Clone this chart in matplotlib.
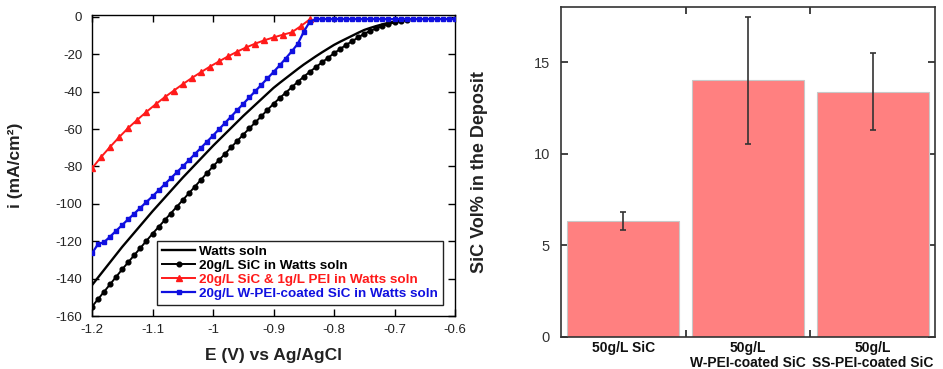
import matplotlib
matplotlib.use("Agg")
import matplotlib.pyplot as plt
import numpy as np

plt.rcParams['font.family'] = ['Liberation Sans', 'DejaVu Sans']
plt.rcParams['axes.unicode_minus'] = False

# ---------------- Left panel data (polarization curves) ----------------
# potential grid (V vs Ag/AgCl), 0.01 V steps
E_grid = np.round(np.linspace(-1.2, -0.6, 61), 3)

i_watts = [-143.5, -139.4, -135.3, -131.2, -127.1, -123.0, -119.2, -115.4, -111.6, -107.8,
           -104.0, -100.4, -96.8, -93.2, -89.6, -86.0, -82.6, -79.2, -75.8, -72.4,
           -69.0, -65.8, -62.6, -59.4, -56.2, -53.0, -50.0, -47.0, -44.0, -41.0,
           -38.0, -35.4, -32.9, -30.4, -27.9, -25.5, -23.3, -21.1, -19.0, -17.0,
           -15.0, -13.3, -11.7, -10.1, -8.5, -7.0, -5.9, -4.9, -4.0, -3.2,
           -2.5, -2.0, -1.5]

i_sic = [-155.0, -151.0, -147.0, -143.0, -139.0, -135.0, -131.2, -127.4, -123.6, -119.8,
         -116.0, -112.4, -108.8, -105.2, -101.6, -98.0, -94.4, -90.8, -87.2, -83.6,
         -80.0, -76.6, -73.2, -69.8, -66.4, -63.0, -59.7, -56.4, -53.1, -49.8,
         -46.5, -43.5, -40.6, -37.7, -34.8, -32.0, -29.4, -26.9, -24.4, -21.9,
         -19.5, -17.2, -15.0, -13.0, -11.0, -9.0, -7.5, -6.1, -4.9, -3.9,
         -3.0, -2.3, -1.8]

i_wpei = [-126.5, -121.5, -120.5, -117.5, -114.4, -111.3, -108.2, -105.2, -102.1, -99.0,
          -96.0, -92.8, -89.6, -86.4, -83.2, -80.0, -76.7, -73.4, -70.1, -66.8,
          -63.5, -60.1, -56.7, -53.3, -49.9, -46.5, -43.1, -39.7, -36.3, -32.9,
          -29.5, -26.0, -22.3, -18.5, -14.5, -8.0, -2.5, -1.2, -1.2, -1.2,
          -1.2, -1.2, -1.2, -1.2, -1.2, -1.2, -1.2, -1.2, -1.2, -1.2,
          -1.2, -1.2, -1.2, -1.2, -1.2, -1.2, -1.2, -1.2, -1.2, -1.2,
          -1.2]

# red series sampled every 0.015 V
E_pei = np.round(np.linspace(-1.2, -0.84, 25), 3)
i_pei = [-81.0, -75.0, -69.5, -64.3, -59.4, -55.0, -50.8, -46.8, -43.0, -39.5,
         -36.0, -32.7, -29.6, -26.6, -23.8, -21.1, -18.6, -16.3, -14.3, -12.5,
         -11.0, -9.6, -8.3, -5.0, -1.3]

series_labels = ["Watts soln",
                 "20g/L SiC in Watts soln",
                 "20g/L SiC & 1g/L PEI in Watts soln",
                 "20g/L W-PEI-coated SiC in Watts soln"]

x_ticks = [-1.2, -1.1, -1.0, -0.9, -0.8, -0.7, -0.6]
x_tick_labels = ["-1.2", "-1.1", "-1", "-0.9", "-0.8", "-0.7", "-0.6"]
y_ticks = [0, -20, -40, -60, -80, -100, -120, -140, -160]
y_tick_labels = ["0", "-20", "-40", "-60", "-80", "-100", "-120", "-140", "-160"]

# ---------------- Right panel data (bar chart) ----------------
bar_labels = ["50g/L SiC", "50g/L\nW-PEI-coated SiC", "50g/L\nSS-PEI-coated SiC"]
bar_values = [6.33, 14.0, 13.38]
bar_errors = [0.49, 3.45, 2.1]
bar_yticks = [0, 5, 10, 15]

fig = plt.figure(figsize=(9.43, 3.69), dpi=100)

# ---- left axes ----
ax1 = fig.add_axes([92 / 943, 53 / 369, 363 / 943, 301 / 369])
n_w = len(i_watts)
n_s = len(i_sic)
ax1.plot(E_grid[:n_w], i_watts, color='black', lw=1.7, label=series_labels[0], zorder=3)
ax1.plot(E_grid[:n_s], i_sic, color='black', lw=1.4, marker='o', ms=3.4,
         label=series_labels[1], zorder=3)
ax1.plot(E_pei, i_pei, color='#ff1a1a', lw=1.4, marker='^', ms=3.8,
         label=series_labels[2], zorder=4)
ax1.plot(E_grid, i_wpei, color='#1010e0', lw=1.6, marker='s', ms=3.3,
         label=series_labels[3], zorder=5)

ax1.set_xlim(-1.2, -0.6)
ax1.set_ylim(-160, 1)
ax1.set_xticks(x_ticks)
ax1.set_xticklabels(x_tick_labels)
ax1.set_yticks(y_ticks)
ax1.set_yticklabels(y_tick_labels)
ax1.tick_params(direction='in', top=True, right=True, length=5, width=1,
                labelsize=9.5, labelcolor='#222222')
ax1.tick_params(axis='x', pad=6)
ax1.tick_params(axis='y', pad=7)
for sp in ax1.spines.values():
    sp.set_linewidth(1.0)
ax1.set_xlabel("E (V) vs Ag/AgCl", fontsize=12.5, fontweight='bold', color='#222222')
ax1.set_ylabel("i (mA/cm²)", fontsize=12.5, fontweight='bold', color='#222222')
ax1.xaxis.set_label_coords(0.5, -0.105)
ax1.yaxis.set_label_coords(-0.19, 0.5)

leg = ax1.legend(loc='lower right', bbox_to_anchor=(0.967, 0.037), borderaxespad=0,
                 frameon=True, fancybox=False, edgecolor='#222222', framealpha=1,
                 prop={'weight': 'bold', 'size': 9.7}, handlelength=2.5,
                 handletextpad=0.3, labelspacing=0.12, borderpad=0.35)
leg.get_frame().set_linewidth(1.0)
for txt, ln in zip(leg.get_texts(), leg.get_lines()):
    txt.set_color(ln.get_color())

# ---- right axes ----
ax2 = fig.add_axes([561 / 943, 32 / 369, 374 / 943, 330 / 369])
xpos = np.arange(len(bar_values))
ax2.bar(xpos, bar_values, width=0.9, color='#ff8080', edgecolor='#c8c8c8', linewidth=0.8,
        yerr=bar_errors, capsize=2.5,
        error_kw=dict(ecolor='#333333', elinewidth=1.2, capthick=1.2), zorder=2)
ax2.set_xlim(-0.5, 2.5)
ax2.set_ylim(0, 18)
ax2.set_yticks(bar_yticks)
ax2.set_yticklabels([str(v) for v in bar_yticks])
ax2.set_xticks(xpos)
ax2.set_xticklabels(bar_labels, fontsize=10, fontweight='bold', linespacing=1.05)
ax2.set_xticks([0.5, 1.5], minor=True)
ax2.tick_params(axis='x', which='major', length=0, pad=3, labelcolor='#111111')
ax2.tick_params(axis='x', which='minor', direction='in', top=True, bottom=True,
                length=5, width=1.2, color='#222222')
ax2.tick_params(axis='y', direction='in', left=True, right=True, length=5, width=1.2,
                labelsize=10.5, pad=8, labelcolor='#333333', color='#222222')
for sp in ax2.spines.values():
    sp.set_linewidth(1.2)
    sp.set_color('#333333')
ax2.set_ylabel("SiC Vol% in the Deposit", fontsize=13, fontweight='bold', color='#222222')
ax2.yaxis.set_label_coords(-0.195, 0.5)

fig.savefig("out.png", dpi=100)
